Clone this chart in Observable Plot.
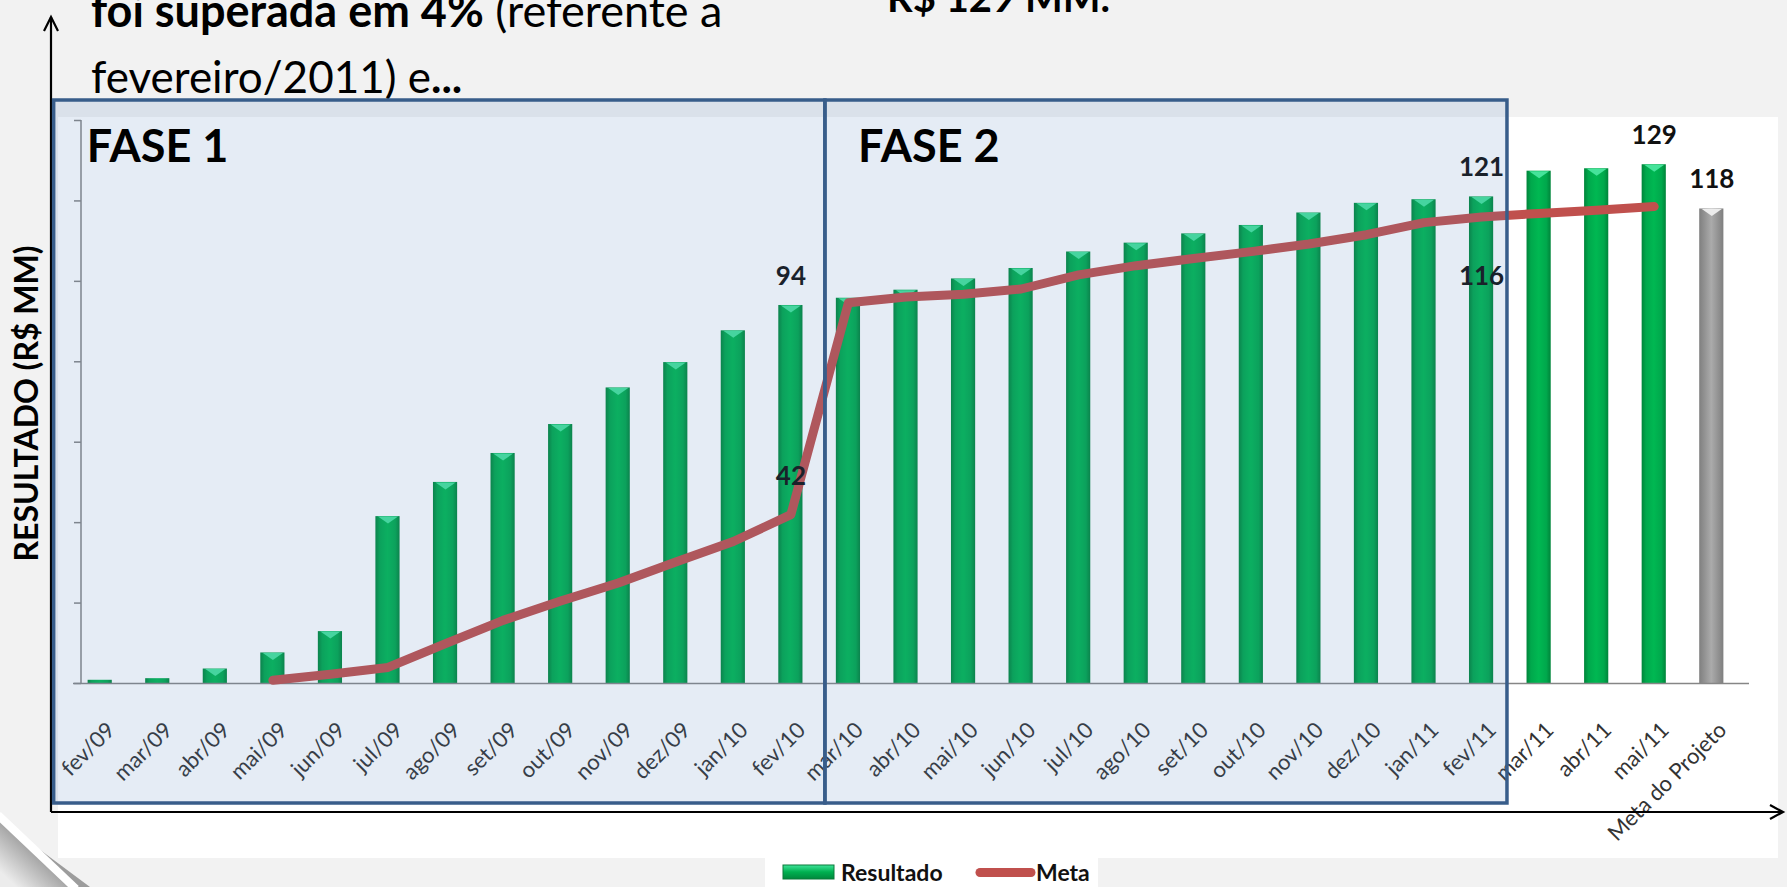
<!DOCTYPE html>
<html>
<head>
<meta charset="utf-8">
<script src="https://cdn.jsdelivr.net/npm/d3@7"></script>
<script src="https://cdn.jsdelivr.net/npm/@observablehq/plot@0.6"></script>
<style>
  html, body { margin: 0; padding: 0; }
  body { width: 1787px; height: 887px; position: relative; overflow: hidden; background: #f2f2f2; font-family: Lato, "Open Sans", sans-serif; }
  #chartbg { position: absolute; left: 58px; top: 117px; width: 1720px; height: 741px; background: #ffffff; }
  #legendbg { position: absolute; left: 765px; top: 858px; width: 333px; height: 29px; background: #ffffff; }
  #chart { position: absolute; left: 0; top: 0; }
  #defs { position: absolute; width: 0; height: 0; }
</style>
</head>
<body>
<svg id="defs" width="0" height="0">
  <defs>
    <linearGradient id="gGreen" x1="0" x2="1" y1="0" y2="0">
      <stop offset="0" stop-color="#00843a"/>
      <stop offset="0.18" stop-color="#00a84c"/>
      <stop offset="0.5" stop-color="#00b852"/>
      <stop offset="0.82" stop-color="#00a84c"/>
      <stop offset="1" stop-color="#00843a"/>
    </linearGradient>
    <linearGradient id="gGray" x1="0" x2="1" y1="0" y2="0">
      <stop offset="0" stop-color="#7f7f7f"/>
      <stop offset="0.5" stop-color="#ababab"/>
      <stop offset="1" stop-color="#7f7f7f"/>
    </linearGradient>
    <linearGradient id="gLegend" x1="0" x2="0" y1="0" y2="1">
      <stop offset="0" stop-color="#3fe39a"/>
      <stop offset="0.5" stop-color="#00b050"/>
      <stop offset="1" stop-color="#00883c"/>
    </linearGradient>
    <linearGradient id="gCorner" gradientUnits="userSpaceOnUse" x1="38" y1="851" x2="10" y2="881">
      <stop offset="0" stop-color="#9c9c9c"/>
      <stop offset="1" stop-color="#ececec"/>
    </linearGradient>
  </defs>
</svg>
<div id="chartbg"></div>
<div id="legendbg"></div>
<div id="chart"></div>
<script>
// ---- data ----
const categories = ["fev/09","mar/09","abr/09","mai/09","jun/09","jul/09","ago/09","set/09","out/09","nov/09","dez/09","jan/10","fev/10",
  "mar/10","abr/10","mai/10","jun/10","jul/10","ago/10","set/10","out/10","nov/10","dez/10","jan/11","fev/11",
  "mar/11","abr/11","mai/11","Meta do Projeto"];
const resultado = [0.8, 1.2, 3.6, 7.6, 12.9, 41.5, 50.0, 57.2, 64.4, 73.5, 79.8, 87.7, 94,
  95.8, 97.8, 100.6, 103.2, 107.3, 109.5, 111.8, 113.9, 117.0, 119.4, 120.3, 121,
  127.4, 128.0, 129, 118];
const meta = [null, null, null, 0.8, 2.3, 4.0, 9.9, 15.7, 20.5, 25.0, 30.2, 35.3, 42,
  94.7, 96.1, 96.8, 98.1, 101.6, 103.9, 105.7, 107.4, 109.3, 111.6, 114.6, 116,
  116.9, 117.7, 118.6, null];
const projectCategory = "Meta do Projeto";
const yTicks = [0, 20, 40, 60, 80, 100, 120, 140];
const barLabelCats = ["fev/10", "fev/11", "mai/11", "Meta do Projeto"];
const metaLabelAbove = ["fev/10"];
const metaLabelBelow = ["fev/11"];
const phases = [
  {name: "FASE 1", from: "fev/09", to: "fev/10", next: "mar/10"},
  {name: "FASE 2", from: "mar/10", to: "fev/11", next: "mar/11"}
];
const legendItems = ["Resultado", "Meta"];
const yAxisTitle = "RESULTADO (R$ MM)";

const rows = categories.map((c, i) => ({cat: c, resultado: resultado[i], meta: meta[i], projeto: c === projectCategory}));

// bevel at the top of each bar (downward triangle)
const bevel = {
  draw(ctx, size) {
    const r = Math.sqrt(size / Math.PI);
    ctx.moveTo(-r, 0); ctx.lineTo(r, 0); ctx.lineTo(0, r * 0.7); ctx.closePath();
  }
};

const FONT = "Lato, 'Open Sans', sans-serif";

const plot = Plot.plot({
  width: 1787, height: 887,
  marginTop: 120, marginBottom: 204, marginLeft: 81, marginRight: 57,
  style: {background: "transparent", fontFamily: FONT, color: "#262626", overflow: "visible"},
  x: {domain: categories, paddingInner: 0.58, paddingOuter: 0.115, round: false, label: null},
  y: {domain: [0, 140], label: null},
  marks: [
    Plot.axisY(yTicks, {tickFormat: () => "", tickSize: 7, stroke: "#868686", strokeWidth: 1.5, label: null}),
    Plot.axisX({tickRotate: -45, tickSize: 0, tickPadding: 43, dx: 11, fontSize: 22, fill: "#333333", label: null}),
    Plot.barY(rows.filter(d => !d.projeto), {x: "cat", y: "resultado", fill: "url(#gGreen)"}),
    Plot.barY(rows.filter(d => d.projeto), {x: "cat", y: "resultado", fill: "url(#gGray)"}),
    Plot.dot(rows.filter(d => !d.projeto && d.resultado >= 3), {x: "cat", y: "resultado", symbol: bevel, r: 10, fill: "#45e39a"}),
    Plot.dot(rows.filter(d => d.projeto), {x: "cat", y: "resultado", symbol: bevel, r: 10, fill: "#ececec"}),
    Plot.ruleY([0], {stroke: "#868686", strokeWidth: 1.5, insetLeft: -8, insetRight: -19}),
    Plot.line(rows.filter(d => d.meta != null), {x: "cat", y: "meta", stroke: "#c0504d", strokeWidth: 9, strokeLinecap: "round", strokeLinejoin: "round"}),
    Plot.text(rows.filter(d => barLabelCats.includes(d.cat)), {x: "cat", y: "resultado", text: d => String(d.resultado), dy: -29, fontSize: 26, fontWeight: "bold", fill: "#111"}),
    Plot.text(rows.filter(d => metaLabelAbove.includes(d.cat)), {x: "cat", y: "meta", text: d => String(d.meta), dy: -38, fontSize: 26, fontWeight: "bold", fill: "#111"}),
    Plot.text(rows.filter(d => metaLabelBelow.includes(d.cat)), {x: "cat", y: "meta", text: d => String(d.meta), dy: 60, fontSize: 26, fontWeight: "bold", fill: "#111"})
  ]
});
document.getElementById("chart").appendChild(plot);

// ---- decorations positioned from the plot's own scales ----
const svg = d3.select(plot);
const xs = plot.scale("x"), ys = plot.scale("y");
const bw = xs.bandwidth, step = xs.step;
const center = c => xs.apply(c) + bw / 2;
const x0 = xs.range[0];
const yBase = ys.apply(0), yTop = ys.apply(140);

// corner decoration + titles (under everything)
const under = svg.insert("g", ":first-child").attr("text-anchor", "start");
under.append("polygon").attr("points", "0,820 0,887 90,887").attr("fill", "url(#gCorner)");
under.append("line").attr("x1", -2).attr("y1", 815).attr("x2", 76).attr("y2", 889).attr("stroke", "#ffffff").attr("stroke-width", 8);

const t1 = under.append("text").attr("x", 91).attr("y", 27).attr("font-size", 45).attr("font-family", FONT).attr("fill", "#000");
t1.append("tspan").attr("font-weight", "bold").text("foi superada em 4%");
t1.append("tspan").text(" (referente a");
const t2 = under.append("text").attr("x", 91).attr("y", 93).attr("font-size", 44).attr("font-family", FONT).attr("fill", "#000");
t2.append("tspan").text("fevereiro/2011) e");
t2.append("tspan").attr("font-weight", "bold").text("...");
under.append("text").attr("x", 887).attr("y", 12).attr("font-size", 40).attr("font-weight", "bold").attr("font-family", FONT).attr("fill", "#000").text("R$ 129 MM.");

// y axis title
svg.append("text").attr("transform", `translate(25,${(yBase + yTop) / 2 + 2}) rotate(-90)`)
  .attr("text-anchor", "middle").attr("dominant-baseline", "central")
  .attr("font-size", 32).attr("font-weight", "bold").attr("font-family", FONT).attr("fill", "#000").text(yAxisTitle);

// y axis line
svg.append("line").attr("x1", x0).attr("x2", x0).attr("y1", yBase).attr("y2", yTop).attr("stroke", "#868686").attr("stroke-width", 1.5);

// black arrows
const arrows = svg.append("g").attr("stroke", "#000").attr("stroke-width", 2.2).attr("fill", "none");
const ax = 51, ay = yBase + 129;
arrows.append("line").attr("x1", ax).attr("y1", ay).attr("x2", ax).attr("y2", 17);
arrows.append("path").attr("d", `M${ax - 7},31 L${ax},17 L${ax + 7},31`);
arrows.append("line").attr("x1", ax).attr("y1", ay).attr("x2", 1783).attr("y2", ay);
arrows.append("path").attr("d", `M1770,${ay - 7} L1783,${ay} L1770,${ay + 7}`);

// phase boxes
const boxes = svg.append("g").attr("text-anchor", "start");
phases.forEach((p, i) => {
  const left = i === 0 ? center(p.from) - 0.8 * step : (center(phases[i - 1].to) + center(phases[i - 1].next)) / 2 + 0.1 * step;
  const right = i === 0 ? (center(p.to) + center(p.next)) / 2 + 0.1 * step : (center(p.to) + center(p.next)) / 2 - 0.05 * step;
  const top = yTop - 20, bottom = yBase + 120;
  boxes.append("rect").attr("x", left).attr("y", top).attr("width", right - left).attr("height", bottom - top)
    .attr("fill", "#4f81bd").attr("fill-opacity", 0.15).attr("stroke", "#385d8a").attr("stroke-width", 3.5);
  boxes.append("text").attr("x", left + 33).attr("y", top + 62).attr("font-size", 45).attr("font-weight", "bold")
    .attr("font-family", FONT).attr("fill", "#000").text(p.name);
});

// legend
const lg = svg.append("g").attr("text-anchor", "start").attr("font-family", FONT).attr("font-size", 23).attr("font-weight", "bold").attr("fill", "#111");
lg.append("rect").attr("x", 783).attr("y", 865).attr("width", 51).attr("height", 14).attr("fill", "url(#gLegend)").attr("stroke", "#0a7a3a").attr("stroke-width", 1);
lg.append("text").attr("x", 841).attr("y", 881).text(legendItems[0]);
lg.append("line").attr("x1", 980).attr("x2", 1031).attr("y1", 872.5).attr("y2", 872.5).attr("stroke", "#c0504d").attr("stroke-width", 9).attr("stroke-linecap", "round");
lg.append("text").attr("x", 1036).attr("y", 881).text(legendItems[1]);
</script>
</body>
</html>
